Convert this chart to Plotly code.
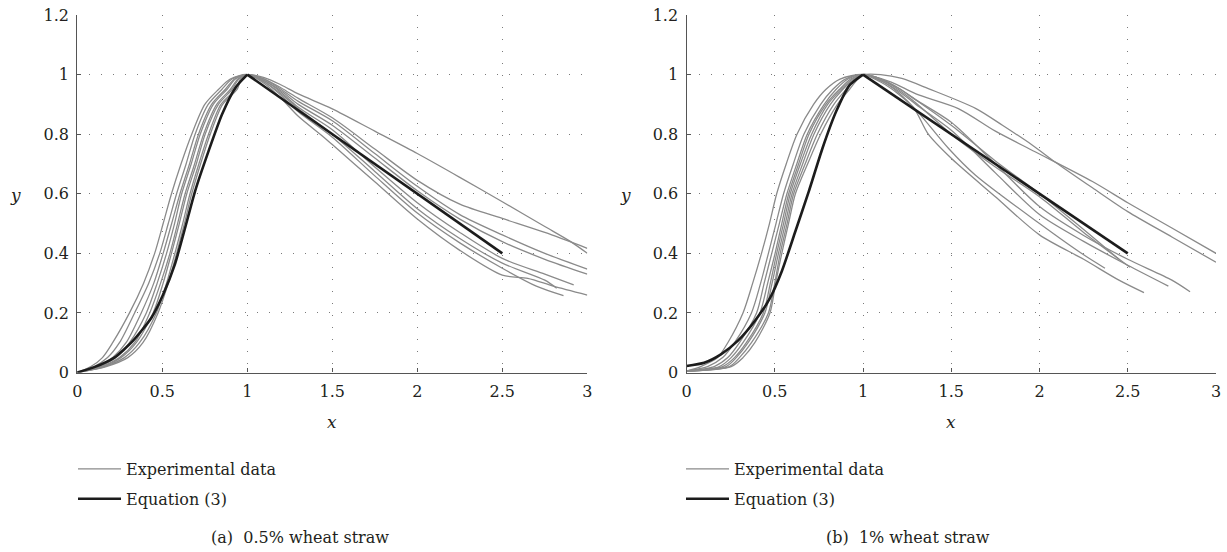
import plotly.graph_objects as go

# ---------------- data: panel (a) 0.5% wheat straw ----------------
left_rise_levels = [0, 0.02, 0.05, 0.1, 0.2, 0.3, 0.4, 0.5, 0.6, 0.7, 0.8, 0.9, 0.95, 0.985, 1.0]
left_rise_x_1 = [0, 0.08, 0.148, 0.208, 0.307, 0.39, 0.455, 0.505, 0.554, 0.61, 0.673, 0.75, 0.83, 0.90, 1.0]
left_rise_x_2 = [0, 0.10, 0.178, 0.248, 0.337, 0.42, 0.485, 0.535, 0.584, 0.64, 0.693, 0.77, 0.85, 0.91, 1.0]
left_rise_x_3 = [0, 0.12, 0.208, 0.287, 0.376, 0.45, 0.505, 0.555, 0.604, 0.66, 0.713, 0.79, 0.87, 0.925, 1.0]
left_rise_x_4 = [0, 0.13, 0.228, 0.307, 0.406, 0.47, 0.525, 0.572, 0.614, 0.67, 0.723, 0.80, 0.88, 0.93, 1.0]
left_rise_x_5 = [0, 0.14, 0.248, 0.337, 0.426, 0.49, 0.545, 0.59, 0.634, 0.69, 0.743, 0.82, 0.90, 0.945, 1.0]
left_rise_x_6 = [0, 0.15, 0.257, 0.347, 0.446, 0.505, 0.554, 0.60, 0.644, 0.70, 0.752, 0.83, 0.91, 0.95, 1.0]
left_rise_x_7 = [0, 0.16, 0.277, 0.366, 0.465, 0.525, 0.574, 0.62, 0.663, 0.715, 0.772, 0.845, 0.93, 0.96, 1.0]
left_rise_x_8 = [0, 0.17, 0.297, 0.386, 0.475, 0.535, 0.584, 0.63, 0.673, 0.725, 0.782, 0.855, 0.94, 0.965, 1.0]

left_fall_x_1 = [1, 1.1, 1.2, 1.3, 1.45, 1.5, 1.75, 2.0, 2.25, 2.5, 2.65, 2.8, 3.0]
left_fall_y_1 = [1, 0.97, 0.92, 0.86, 0.79, 0.765, 0.64, 0.515, 0.41, 0.327, 0.316, 0.29, 0.26]
left_fall_x_2 = [1, 1.1, 1.2, 1.3, 1.5, 1.75, 2.0, 2.25, 2.5, 2.75, 2.9, 3.0]
left_fall_y_2 = [1, 0.99, 0.965, 0.935, 0.885, 0.81, 0.735, 0.655, 0.573, 0.49, 0.44, 0.40]
left_fall_x_3 = [1, 1.1, 1.2, 1.3, 1.5, 1.75, 2.0, 2.25, 2.5, 2.75, 3.0]
left_fall_y_3 = [1, 0.985, 0.95, 0.91, 0.845, 0.735, 0.625, 0.53, 0.462, 0.40, 0.347]
left_fall_x_4 = [1, 1.1, 1.2, 1.3, 1.5, 1.75, 2.0, 2.25, 2.5, 2.7, 2.86]
left_fall_y_4 = [1, 0.975, 0.93, 0.875, 0.79, 0.66, 0.535, 0.435, 0.35, 0.29, 0.258]
left_fall_x_5 = [1, 1.1, 1.2, 1.3, 1.5, 1.75, 2.0, 2.25, 2.5, 2.75, 3.0]
left_fall_y_5 = [1, 0.985, 0.955, 0.92, 0.855, 0.75, 0.645, 0.565, 0.517, 0.47, 0.417]
left_fall_x_6 = [1, 1.1, 1.2, 1.3, 1.5, 1.75, 2.0, 2.25, 2.5, 2.75, 2.92]
left_fall_y_6 = [1, 0.98, 0.94, 0.89, 0.815, 0.69, 0.57, 0.47, 0.383, 0.33, 0.294]
left_fall_x_7 = [1, 1.1, 1.2, 1.3, 1.5, 1.75, 2.0, 2.25, 2.5, 2.75, 3.0]
left_fall_y_7 = [1, 0.98, 0.945, 0.90, 0.83, 0.72, 0.61, 0.515, 0.439, 0.38, 0.33]
left_fall_x_8 = [1, 1.1, 1.2, 1.3, 1.5, 1.75, 2.0, 2.25, 2.5, 2.75, 2.82]
left_fall_y_8 = [1, 0.975, 0.935, 0.885, 0.80, 0.675, 0.55, 0.45, 0.367, 0.31, 0.283]

left_eq_rise_x = [0, 0.1, 0.218, 0.327, 0.436, 0.505, 0.574, 0.634, 0.693, 0.772, 0.851, 0.931, 1.0]
left_eq_rise_y = [0, 0.018, 0.05, 0.106, 0.184, 0.262, 0.363, 0.485, 0.609, 0.743, 0.866, 0.957, 1.0]
left_eq_fall_x = [1.0, 2.5]
left_eq_fall_y = [1.0, 0.4]

# ---------------- data: panel (b) 1% wheat straw ----------------
right_rise_levels = [0.005, 0.02, 0.05, 0.1, 0.2, 0.3, 0.4, 0.5, 0.6, 0.7, 0.8, 0.9, 0.95, 0.985, 1.0]
right_rise_x_1 = [0, 0.08, 0.176, 0.234, 0.32, 0.375, 0.425, 0.47, 0.511, 0.565, 0.626, 0.72, 0.789, 0.87, 1.0]
right_rise_x_2 = [0, 0.119, 0.205, 0.272, 0.368, 0.42, 0.464, 0.507, 0.55, 0.605, 0.665, 0.76, 0.828, 0.90, 1.0]
right_rise_x_3 = [0, 0.157, 0.234, 0.30, 0.397, 0.44, 0.483, 0.526, 0.569, 0.625, 0.684, 0.78, 0.847, 0.915, 1.0]
right_rise_x_4 = [0, 0.186, 0.253, 0.32, 0.416, 0.46, 0.502, 0.54, 0.579, 0.635, 0.694, 0.79, 0.866, 0.93, 1.0]
right_rise_x_5 = [0, 0.205, 0.272, 0.339, 0.435, 0.475, 0.511, 0.55, 0.588, 0.645, 0.709, 0.80, 0.876, 0.94, 1.0]
right_rise_x_6 = [0, 0.224, 0.282, 0.349, 0.444, 0.485, 0.521, 0.56, 0.598, 0.658, 0.722, 0.815, 0.885, 0.95, 1.0]
right_rise_x_7 = [0, 0.243, 0.30, 0.368, 0.464, 0.50, 0.531, 0.57, 0.607, 0.672, 0.741, 0.835, 0.904, 0.96, 1.0]
right_rise_x_8 = [0, 0.253, 0.32, 0.387, 0.473, 0.505, 0.54, 0.578, 0.617, 0.686, 0.76, 0.855, 0.923, 0.97, 1.0]

right_fall_x_1 = [1, 1.1, 1.2, 1.29, 1.37, 1.5, 1.75, 2.0, 2.25, 2.45, 2.592]
right_fall_y_1 = [1, 0.975, 0.935, 0.886, 0.80, 0.719, 0.59, 0.462, 0.38, 0.31, 0.268]
right_fall_x_2 = [1, 1.16, 1.3, 1.54, 1.75, 1.975, 2.3, 2.5, 2.75, 3.0]
right_fall_y_2 = [1, 0.975, 0.935, 0.886, 0.81, 0.741, 0.641, 0.57, 0.485, 0.40]
right_fall_x_3 = [1, 1.1, 1.2, 1.31, 1.485, 1.636, 2.0, 2.25, 2.371]
right_fall_y_3 = [1, 0.98, 0.94, 0.875, 0.752, 0.663, 0.50, 0.395, 0.35]
right_fall_x_4 = [1, 1.1, 1.22, 1.37, 1.64, 1.79, 1.96, 2.09, 2.3, 2.5, 2.75, 3.0]
right_fall_y_4 = [1, 1.0, 0.987, 0.953, 0.886, 0.83, 0.763, 0.706, 0.62, 0.54, 0.455, 0.37]
right_fall_x_5 = [1, 1.1, 1.2, 1.3, 1.5, 1.75, 2.0, 2.25, 2.5, 2.75, 2.853]
right_fall_y_5 = [1, 0.985, 0.955, 0.915, 0.84, 0.70, 0.557, 0.46, 0.38, 0.31, 0.271]
right_fall_x_6 = [1, 1.1, 1.2, 1.3, 1.5, 1.75, 2.0, 2.25, 2.5, 2.73]
right_fall_y_6 = [1, 0.98, 0.945, 0.90, 0.813, 0.67, 0.53, 0.44, 0.36, 0.29]
right_fall_x_7 = [1, 1.1, 1.2, 1.3, 1.5, 1.75, 2.0, 2.25, 2.513]
right_fall_y_7 = [1, 0.985, 0.95, 0.905, 0.80, 0.69, 0.59, 0.47, 0.353]
right_fall_x_8 = [1, 1.1, 1.2, 1.3, 1.5, 1.75, 2.0, 2.25, 2.45]
right_fall_y_8 = [1, 0.985, 0.955, 0.915, 0.83, 0.71, 0.60, 0.48, 0.38]

right_eq_rise_x = [0, 0.1, 0.195, 0.29, 0.387, 0.473, 0.54, 0.617, 0.693, 0.77, 0.847, 0.923, 1.0]
right_eq_rise_y = [0.022, 0.033, 0.061, 0.106, 0.173, 0.25, 0.34, 0.474, 0.608, 0.752, 0.875, 0.964, 1.0]
right_eq_fall_x = [1.0, 2.5]
right_eq_fall_y = [1.0, 0.4]

x_ticks = [0, 0.5, 1, 1.5, 2, 2.5, 3]
x_tick_labels = ["0", "0.5", "1", "1.5", "2", "2.5", "3"]
y_ticks = [0, 0.2, 0.4, 0.6, 0.8, 1.0, 1.2]
y_tick_labels = ["0", "0.2", "0.4", "0.6", "0.8", "1", "1.2"]

legend_labels = ["Experimental data", "Equation (3)"]
captions = ["(a)  0.5% wheat straw", "(b)  1% wheat straw"]

left_rises = [left_rise_x_1, left_rise_x_2, left_rise_x_3, left_rise_x_4,
              left_rise_x_5, left_rise_x_6, left_rise_x_7, left_rise_x_8]
left_falls = [(left_fall_x_1, left_fall_y_1), (left_fall_x_2, left_fall_y_2),
              (left_fall_x_3, left_fall_y_3), (left_fall_x_4, left_fall_y_4),
              (left_fall_x_5, left_fall_y_5), (left_fall_x_6, left_fall_y_6),
              (left_fall_x_7, left_fall_y_7), (left_fall_x_8, left_fall_y_8)]
right_rises = [right_rise_x_1, right_rise_x_2, right_rise_x_3, right_rise_x_4,
               right_rise_x_5, right_rise_x_6, right_rise_x_7, right_rise_x_8]
right_falls = [(right_fall_x_1, right_fall_y_1), (right_fall_x_2, right_fall_y_2),
               (right_fall_x_3, right_fall_y_3), (right_fall_x_4, right_fall_y_4),
               (right_fall_x_5, right_fall_y_5), (right_fall_x_6, right_fall_y_6),
               (right_fall_x_7, right_fall_y_7), (right_fall_x_8, right_fall_y_8)]

GRAY = "#8a8a8a"
BLACK = "#1c1c1c"
FONT = "DejaVu Serif"
W, H = 1227, 552

fig = go.Figure()


def add_panel(rises, levels, falls, eq_rx, eq_ry, eq_fx, eq_fy, xa, ya, leg, grp):
    for i, (rx, (fx, fy)) in enumerate(zip(rises, falls)):
        xs = list(rx) + list(fx[1:])
        ys = list(levels) + list(fy[1:])
        fig.add_trace(go.Scatter(
            x=xs, y=ys, mode="lines", xaxis=xa, yaxis=ya,
            line=dict(color=GRAY, width=1.3, shape="spline", smoothing=0.8),
            name=legend_labels[0], legend=leg, legendgroup=grp + "exp",
            showlegend=(i == 0), hoverinfo="skip"))
    fig.add_trace(go.Scatter(
        x=eq_rx, y=eq_ry, mode="lines", xaxis=xa, yaxis=ya,
        line=dict(color=BLACK, width=2.6, shape="spline", smoothing=0.6),
        name=legend_labels[1], legend=leg, legendgroup=grp + "eq",
        showlegend=True, hoverinfo="skip"))
    fig.add_trace(go.Scatter(
        x=eq_fx, y=eq_fy, mode="lines", xaxis=xa, yaxis=ya,
        line=dict(color=BLACK, width=2.6),
        name=legend_labels[1], legend=leg, legendgroup=grp + "eq",
        showlegend=False, hoverinfo="skip"))


add_panel(left_rises, left_rise_levels, left_falls, left_eq_rise_x, left_eq_rise_y,
          left_eq_fall_x, left_eq_fall_y, "x", "y", "legend", "a")
add_panel(right_rises, right_rise_levels, right_falls, right_eq_rise_x, right_eq_rise_y,
          right_eq_fall_x, right_eq_fall_y, "x2", "y2", "legend2", "b")

y_dom = [(H - 372.5) / H, (H - 15) / H]
left_dom = [77.3 / W, 587.3 / W]
right_dom = [686.5 / W, 1216 / W]

axis_common = dict(
    showline=True, linecolor="#555555", linewidth=1.3,
    ticks="inside", ticklen=4, tickwidth=1, tickcolor="#555555",
    showgrid=True, gridcolor="#7a7a7a", gridwidth=1, griddash="1px,11px",
    zeroline=False, tickfont=dict(family=FONT, size=16, color="#231f20"),
    ticklabelstandoff=4, automargin=False, ticklabeloverflow="allow",
)

leg_common = dict(xanchor="left", yanchor="top", bgcolor="rgba(0,0,0,0)",
                  traceorder="grouped", tracegroupgap=6, itemwidth=43,
                  font=dict(family=FONT, size=16, color="#231f20"))

fig.update_layout(
    template="none",
    width=W, height=H, margin=dict(l=0, r=0, t=0, b=0, autoexpand=False),
    paper_bgcolor="white", plot_bgcolor="white",
    font=dict(family=FONT, size=16, color="#231f20"),
    xaxis=dict(domain=left_dom, range=[0, 3], tickvals=x_ticks, ticktext=x_tick_labels,
               anchor="y", **axis_common),
    yaxis=dict(domain=y_dom, range=[0, 1.2], tickvals=y_ticks, ticktext=y_tick_labels,
               anchor="x", **axis_common),
    xaxis2=dict(domain=right_dom, range=[0, 3], tickvals=x_ticks, ticktext=x_tick_labels,
                anchor="y2", **axis_common),
    yaxis2=dict(domain=y_dom, range=[0, 1.2], tickvals=y_ticks, ticktext=y_tick_labels,
                anchor="x2", **axis_common),
    legend=dict(x=73 / W, y=1 - 452 / H, **leg_common),
    legend2=dict(x=681 / W, y=1 - 452 / H, **leg_common),
    showlegend=True,
)

ann = []
ann.append(dict(text="<i>y</i>", x=15 / W, y=1 - 195 / H, xref="paper", yref="paper",
                showarrow=False, xanchor="center", yanchor="middle", font=dict(size=17)))
ann.append(dict(text="<i>y</i>", x=625 / W, y=1 - 195 / H, xref="paper", yref="paper",
                showarrow=False, xanchor="center", yanchor="middle", font=dict(size=17)))
ann.append(dict(text="<i>x</i>", x=(77.3 + 587.3) / 2 / W, y=1 - 422 / H, xref="paper",
                yref="paper", showarrow=False, xanchor="center", yanchor="middle",
                font=dict(size=17)))
ann.append(dict(text="<i>x</i>", x=(686.5 + 1216) / 2 / W, y=1 - 422 / H, xref="paper",
                yref="paper", showarrow=False, xanchor="center", yanchor="middle",
                font=dict(size=17)))
ann.append(dict(text=captions[0], x=300 / W, y=1 - 537 / H, xref="paper", yref="paper",
                showarrow=False, xanchor="center", yanchor="middle", font=dict(size=16)))
ann.append(dict(text=captions[1], x=908 / W, y=1 - 537 / H, xref="paper", yref="paper",
                showarrow=False, xanchor="center", yanchor="middle", font=dict(size=16)))
fig.update_layout(annotations=ann)

fig.write_html("out.html", config={"displayModeBar": False},
               post_script="document.body.style.margin='0px';document.body.style.overflow='hidden';")
